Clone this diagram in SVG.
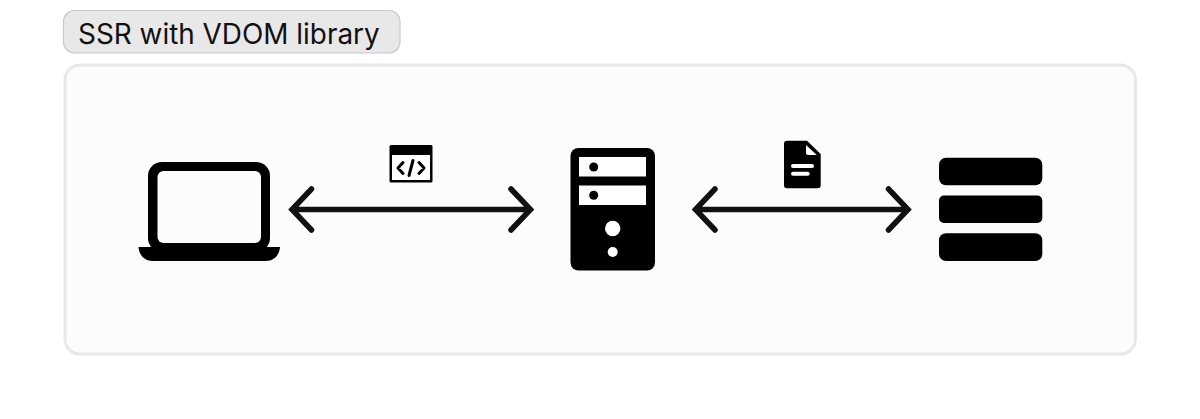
<svg xmlns="http://www.w3.org/2000/svg" width="1200" height="419" viewBox="0 0 1200 419">
<style>
.k{fill:#000}
.w{fill:#fff}
.c{fill:#fcfcfc}
.a{fill:none;stroke:#111;stroke-width:5.5;stroke-linecap:round;stroke-linejoin:miter}
</style>
<rect width="1200" height="419" fill="#fff"/>
<g id="title">
<rect x="63.5" y="10.5" width="336.5" height="42.500" rx="11" fill="#e8e8e8" stroke="#c9c9c9" stroke-width="1.200"/>
<text x="78" y="44" font-family="Inter, sans-serif" font-size="27.900" fill="#111">SSR with VDOM library</text>
</g>
<g id="panel">
<rect x="65" y="65" width="1070.500" height="289" rx="15" fill="#fcfcfc" stroke="#e8e8e8" stroke-width="3"/>
</g>
<g id="connectors">
<path class="a" d="M292 209.500H530M311.500 189L292 209.500L311.500 230M511 189L530.500 209.500L511 230"/>
<path class="a" d="M695.500 209.500H908M715 189L695.500 209.500L715 230M888.500 189L908 209.500L888.500 230"/>
</g>
<g id="laptop">
<rect x="148" y="162" width="122" height="90" rx="14" class="k"/>
<rect x="157.500" y="171" width="103.500" height="72" rx="6" class="c"/>
<path class="k" d="M138.500 247H280C279.500 255 274 261 266 261H152.500C144.500 261 139 255 138.500 247Z"/>
</g>
<g id="code-icon">
<rect x="389.500" y="145" width="43" height="37.500" rx="1.500" class="k"/>
<rect x="392" y="155" width="38" height="25" class="w"/>
<path d="M403 162.500L398 168L403 173.500M419 162.500L424 168L419 173.500M413 160.500L409 175.500" fill="none" stroke="#000" stroke-width="3" stroke-linecap="round" stroke-linejoin="round"/>
</g>
<g id="server">
<rect x="570.500" y="148" width="84.500" height="122.500" rx="8" class="k"/>
<rect x="579" y="157" width="67" height="19.500" class="w"/>
<rect x="579" y="185.500" width="67" height="19.500" class="w"/>
<circle cx="593.700" cy="167" r="4.500" class="k"/>
<circle cx="593.700" cy="195.300" r="4.500" class="k"/>
<circle cx="612.700" cy="228.500" r="7.700" class="w"/>
<circle cx="612.700" cy="252" r="5" class="w"/>
</g>
<g id="doc-icon">
<path class="k" d="M787 140.700H807L820.700 154V185.300A3 3 0 0 1 817.700 188.300H787A3 3 0 0 1 784 185.300V143.700A3 3 0 0 1 787 140.700Z"/>
<path class="w" d="M806 145L816.700 155H808A2 2 0 0 1 806 153Z"/>
<rect x="791" y="164" width="23" height="4" rx="2" class="w"/>
<rect x="791" y="171.700" width="18.700" height="4" rx="2" class="w"/>
</g>
<g id="database">
<rect x="939" y="157.700" width="103.300" height="27.500" rx="7" class="k"/>
<rect x="939" y="195.500" width="103.300" height="27.500" rx="5" class="k"/>
<rect x="939" y="233.300" width="103.300" height="27.700" rx="7" class="k"/>
</g>
</svg>
